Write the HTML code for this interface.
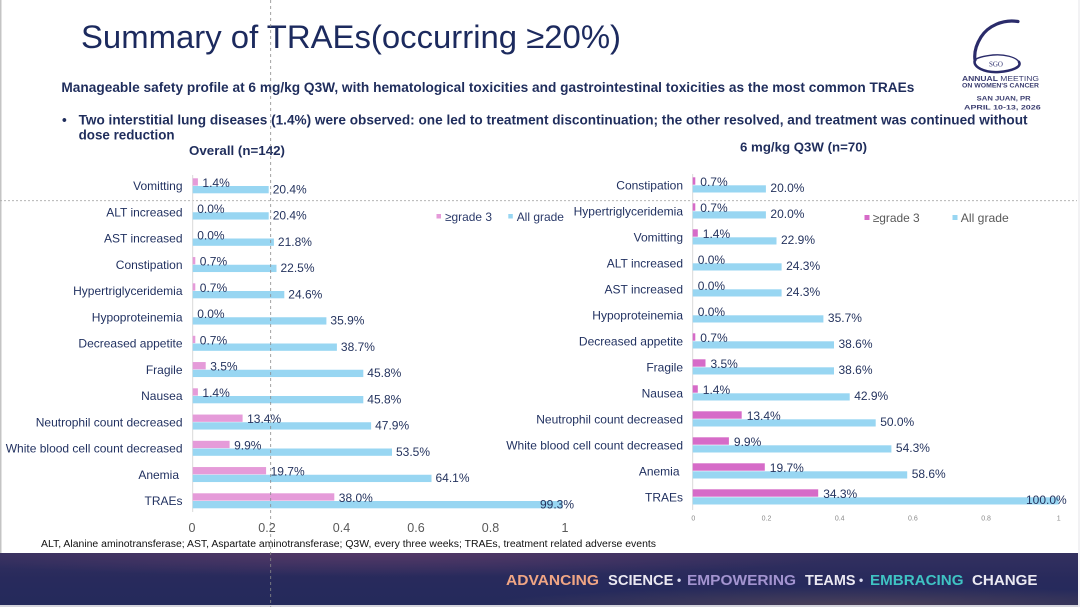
<!DOCTYPE html>
<html>
<head>
<meta charset="utf-8">
<style>
  html, body { margin:0; padding:0; background:#ffffff; }
  body { width:1080px; height:607px; overflow:hidden; }
  svg { display:block; }
  text { font-family: "Liberation Sans", Arial, sans-serif; }
</style>
</head>
<body>
<svg width="1080" height="607" viewBox="0 0 1080 607" xmlns="http://www.w3.org/2000/svg">
  <defs>
    <linearGradient id="bannerBase" x1="0" y1="0" x2="0" y2="1">
      <stop offset="0" stop-color="#33305f"/>
      <stop offset="0.5" stop-color="#282a5c"/>
      <stop offset="1" stop-color="#242a5b"/>
    </linearGradient>
    <radialGradient id="glow1" cx="0.35" cy="0" r="0.45" fx="0.35" fy="0">
      <stop offset="0" stop-color="#5a3a68" stop-opacity="0.85"/>
      <stop offset="1" stop-color="#5a3a68" stop-opacity="0"/>
    </radialGradient>
    <radialGradient id="glow2" cx="0.8" cy="1" r="0.35" fx="0.8" fy="1">
      <stop offset="0" stop-color="#5b4a58" stop-opacity="0.7"/>
      <stop offset="1" stop-color="#5b4a58" stop-opacity="0"/>
    </radialGradient>
  </defs>

  <!-- background -->
  <rect x="0" y="0" width="1080" height="607" fill="#ffffff"/>
  <rect x="0" y="0" width="1.5" height="607" fill="#c4c4c4"/>

  <!-- Title -->
  <text x="81" y="48" font-size="32" fill="#1c2a5e" textLength="540" lengthAdjust="spacingAndGlyphs">Summary of TRAEs(occurring ≥20%)</text>

  <!-- Subtitle -->
  <text x="61.4" y="92" font-size="13.5" font-weight="bold" fill="#1f2d5c" textLength="853" lengthAdjust="spacingAndGlyphs">Manageable safety profile at 6 mg/kg Q3W, with hematological toxicities and gastrointestinal toxicities as the most common TRAEs</text>
  <text x="62" y="124.5" font-size="13.5" font-weight="bold" fill="#1f2d5c">•</text>
  <text x="78.6" y="124.5" font-size="13.5" font-weight="bold" fill="#1f2d5c" textLength="949" lengthAdjust="spacingAndGlyphs">Two interstitial lung diseases (1.4%) were observed: one led to treatment discontinuation; the other resolved, and treatment was continued without</text>
  <text x="78.6" y="139.5" font-size="13.5" font-weight="bold" fill="#1f2d5c" textLength="96" lengthAdjust="spacingAndGlyphs">dose reduction</text>

  <!-- Chart titles -->
  <text x="189" y="155" font-size="13" font-weight="bold" fill="#1f2d5c" textLength="96" lengthAdjust="spacingAndGlyphs">Overall (n=142)</text>
  <text x="740" y="151.5" font-size="13" font-weight="bold" fill="#1f2d5c" textLength="127" lengthAdjust="spacingAndGlyphs">6 mg/kg Q3W (n=70)</text>

  <!-- Logo -->
  <g fill="none" stroke="#2a2b6a" stroke-linecap="round">
    <path d="M1018,21.5 C1003,19 988,26 981,37 C976,45 974,53 975,60" stroke-width="3.2"/>
    <path d="M975,60 C972,67 985,73 999,72 C1012,71 1022,67 1019,62" stroke-width="2.6"/>
    <path d="M1019,62 C1016,57 1004,54 993,55 C984,56 977,58 975,60" stroke-width="1.4"/>
  </g>
  <text x="996" y="66.5" font-size="7" text-anchor="middle" fill="#2d2f6e" style="font-family:'Liberation Serif',serif">SGO</text>
  <text x="962" y="81" font-size="7.5" fill="#3a3d70" textLength="77" lengthAdjust="spacingAndGlyphs"><tspan font-weight="bold">ANNUAL</tspan> MEETING</text>
  <text x="962" y="87.5" font-size="6" font-weight="bold" fill="#3a3d70" textLength="77" lengthAdjust="spacingAndGlyphs">ON WOMEN'S CANCER</text>
  <text x="976.7" y="100.5" font-size="6.2" font-weight="bold" fill="#3a3d70" textLength="54" lengthAdjust="spacingAndGlyphs">SAN JUAN, PR</text>
  <text x="964" y="109.5" font-size="6.2" font-weight="bold" fill="#3a3d70" textLength="76.7" lengthAdjust="spacingAndGlyphs">APRIL 10-13, 2026</text>

  <!-- dashed guide lines -->
  <line x1="0" y1="200.7" x2="1077" y2="200.7" stroke="#aaaaaa" stroke-width="0.9" stroke-dasharray="2 2"/>

  <!-- ================= LEFT CHART ================= -->
  <line x1="192.7" y1="175" x2="192.7" y2="512" stroke="#d9d9d9" stroke-width="1"/>
  <g fill="#e59bd9">
    <rect x="192.7" y="178.3" width="5.2" height="7.3"/>
    <rect x="192.7" y="257.05" width="2.6" height="7.3"/>
    <rect x="192.7" y="283.3" width="2.6" height="7.3"/>
    <rect x="192.7" y="335.8" width="2.6" height="7.3"/>
    <rect x="192.7" y="362.05" width="13.0" height="7.3"/>
    <rect x="192.7" y="388.3" width="5.2" height="7.3"/>
    <rect x="192.7" y="414.55" width="49.9" height="7.3"/>
    <rect x="192.7" y="440.8" width="36.9" height="7.3"/>
    <rect x="192.7" y="467.05" width="73.4" height="7.3"/>
    <rect x="192.7" y="493.3" width="141.6" height="7.3"/>
  </g>
  <g fill="#98d6f2">
    <rect x="192.7" y="186.0" width="76.0" height="7.3"/>
    <rect x="192.7" y="212.25" width="76.0" height="7.3"/>
    <rect x="192.7" y="238.5" width="81.2" height="7.3"/>
    <rect x="192.7" y="264.75" width="83.8" height="7.3"/>
    <rect x="192.7" y="291.0" width="91.6" height="7.3"/>
    <rect x="192.7" y="317.25" width="133.7" height="7.3"/>
    <rect x="192.7" y="343.5" width="144.2" height="7.3"/>
    <rect x="192.7" y="369.75" width="170.6" height="7.3"/>
    <rect x="192.7" y="396.0" width="170.6" height="7.3"/>
    <rect x="192.7" y="422.25" width="178.4" height="7.3"/>
    <rect x="192.7" y="448.5" width="199.3" height="7.3"/>
    <rect x="192.7" y="474.75" width="238.8" height="7.3"/>
    <rect x="192.7" y="501.0" width="369.9" height="7.3"/>
  </g>
  <!-- left category labels -->
  <g font-size="12" fill="#1f2f5f" text-anchor="end">
    <text x="182.5" y="190.1">Vomitting</text>
    <text x="182.5" y="216.35">ALT increased</text>
    <text x="182.5" y="242.6">AST increased</text>
    <text x="182.5" y="268.85">Constipation</text>
    <text x="182.5" y="295.1">Hypertriglyceridemia</text>
    <text x="182.5" y="321.35">Hypoproteinemia</text>
    <text x="182.5" y="347.6">Decreased appetite</text>
    <text x="182.5" y="373.85">Fragile</text>
    <text x="182.5" y="400.1">Nausea</text>
    <text x="182.5" y="426.35">Neutrophil count decreased</text>
    <text x="182.5" y="452.6">White blood cell count decreased</text>
    <text x="179" y="478.85">Anemia</text>
    <text x="182.5" y="505.1">TRAEs</text>
  </g>
  <!-- left value labels -->
  <g font-size="12" fill="#25345f">
    <text x="202.4" y="186.8">1.4%</text>
    <text x="272.7" y="193.3">20.4%</text>
    <text x="197.2" y="213.05">0.0%</text>
    <text x="272.7" y="219.55">20.4%</text>
    <text x="197.2" y="239.3">0.0%</text>
    <text x="277.9" y="245.8">21.8%</text>
    <text x="199.8" y="265.55">0.7%</text>
    <text x="280.5" y="272.05">22.5%</text>
    <text x="199.8" y="291.8">0.7%</text>
    <text x="288.3" y="298.3">24.6%</text>
    <text x="197.2" y="318.05">0.0%</text>
    <text x="330.4" y="324.55">35.9%</text>
    <text x="199.8" y="344.3">0.7%</text>
    <text x="340.9" y="350.8">38.7%</text>
    <text x="210.2" y="370.55">3.5%</text>
    <text x="367.3" y="377.05">45.8%</text>
    <text x="202.4" y="396.8">1.4%</text>
    <text x="367.3" y="403.3">45.8%</text>
    <text x="247.1" y="423.05">13.4%</text>
    <text x="375.1" y="429.55">47.9%</text>
    <text x="234.1" y="449.3">9.9%</text>
    <text x="396.0" y="455.8">53.5%</text>
    <text x="270.6" y="475.55">19.7%</text>
    <text x="435.5" y="482.05">64.1%</text>
    <text x="338.8" y="501.8">38.0%</text>
    <text x="540" y="508.3">99.3%</text>
  </g>
  <!-- left ticks -->
  <g font-size="12.5" fill="#595959" text-anchor="middle">
    <text x="192" y="532">0</text>
    <text x="267" y="532">0.2</text>
    <text x="341.5" y="532">0.4</text>
    <text x="416" y="532">0.6</text>
    <text x="490.5" y="532">0.8</text>
    <text x="565" y="532">1</text>
  </g>
  <!-- left legend -->
  <rect x="436.5" y="214" width="4.5" height="4.5" fill="#e59bd9"/>
  <text x="445" y="221" font-size="12" fill="#2b3a6a" textLength="47" lengthAdjust="spacingAndGlyphs">≥grade 3</text>
  <rect x="508.3" y="214" width="4.5" height="4.5" fill="#98d6f2"/>
  <text x="516.7" y="221" font-size="12" fill="#2b3a6a" textLength="47.3" lengthAdjust="spacingAndGlyphs">All grade</text>

  <!-- ================= RIGHT CHART ================= -->
  <line x1="692.7" y1="174" x2="692.7" y2="510" stroke="#d9d9d9" stroke-width="1"/>
  <g fill="#d66bc8">
    <rect x="692.7" y="177.3" width="2.6" height="7.4"/>
    <rect x="692.7" y="203.3" width="2.6" height="7.4"/>
    <rect x="692.7" y="229.3" width="5.1" height="7.4"/>
    <rect x="692.7" y="333.3" width="2.6" height="7.4"/>
    <rect x="692.7" y="359.3" width="12.8" height="7.4"/>
    <rect x="692.7" y="385.3" width="5.1" height="7.4"/>
    <rect x="692.7" y="411.3" width="49.0" height="7.4"/>
    <rect x="692.7" y="437.3" width="36.2" height="7.4"/>
    <rect x="692.7" y="463.3" width="72.1" height="7.4"/>
    <rect x="692.7" y="489.3" width="125.5" height="7.4"/>
  </g>
  <g fill="#98d6f2">
    <rect x="692.7" y="185.3" width="73.2" height="7.2"/>
    <rect x="692.7" y="211.3" width="73.2" height="7.2"/>
    <rect x="692.7" y="237.3" width="83.8" height="7.2"/>
    <rect x="692.7" y="263.3" width="88.9" height="7.2"/>
    <rect x="692.7" y="289.3" width="88.9" height="7.2"/>
    <rect x="692.7" y="315.3" width="130.7" height="7.2"/>
    <rect x="692.7" y="341.3" width="141.3" height="7.2"/>
    <rect x="692.7" y="367.3" width="141.3" height="7.2"/>
    <rect x="692.7" y="393.3" width="157.0" height="7.2"/>
    <rect x="692.7" y="419.3" width="183.0" height="7.2"/>
    <rect x="692.7" y="445.3" width="198.7" height="7.2"/>
    <rect x="692.7" y="471.3" width="214.5" height="7.2"/>
    <rect x="692.7" y="497.3" width="366.0" height="7.2"/>
  </g>
  <!-- right category labels -->
  <g font-size="12" fill="#1f2f5f" text-anchor="end">
    <text x="683" y="189.5">Constipation</text>
    <text x="683" y="215.5">Hypertriglyceridemia</text>
    <text x="683" y="241.5">Vomitting</text>
    <text x="683" y="267.5">ALT increased</text>
    <text x="683" y="293.5">AST increased</text>
    <text x="683" y="319.5">Hypoproteinemia</text>
    <text x="683" y="345.5">Decreased appetite</text>
    <text x="683" y="371.5">Fragile</text>
    <text x="683" y="397.5">Nausea</text>
    <text x="683" y="423.5">Neutrophil count decreased</text>
    <text x="683" y="449.5">White blood cell count decreased</text>
    <text x="679.5" y="475.5">Anemia</text>
    <text x="683" y="501.5">TRAEs</text>
  </g>
  <!-- right value labels -->
  <g font-size="12" fill="#25345f">
    <text x="700.3" y="185.8">0.7%</text>
    <text x="770.4" y="192">20.0%</text>
    <text x="700.3" y="211.8">0.7%</text>
    <text x="770.4" y="218">20.0%</text>
    <text x="702.8" y="237.8">1.4%</text>
    <text x="781.0" y="244">22.9%</text>
    <text x="697.7" y="263.8">0.0%</text>
    <text x="786.1" y="270">24.3%</text>
    <text x="697.7" y="289.8">0.0%</text>
    <text x="786.1" y="296">24.3%</text>
    <text x="697.7" y="315.8">0.0%</text>
    <text x="827.9" y="322">35.7%</text>
    <text x="700.3" y="341.8">0.7%</text>
    <text x="838.5" y="348">38.6%</text>
    <text x="710.5" y="367.8">3.5%</text>
    <text x="838.5" y="374">38.6%</text>
    <text x="702.8" y="393.8">1.4%</text>
    <text x="854.2" y="400">42.9%</text>
    <text x="746.7" y="419.8">13.4%</text>
    <text x="880.2" y="426">50.0%</text>
    <text x="733.9" y="445.8">9.9%</text>
    <text x="895.9" y="452">54.3%</text>
    <text x="769.8" y="471.8">19.7%</text>
    <text x="911.7" y="478">58.6%</text>
    <text x="823.2" y="497.8">34.3%</text>
    <text x="1026" y="504">100.0%</text>
  </g>
  <!-- right ticks -->
  <g font-size="7" fill="#8a8a8a" text-anchor="middle">
    <text x="693.3" y="520.5">0</text>
    <text x="766.5" y="520.5">0.2</text>
    <text x="839.7" y="520.5">0.4</text>
    <text x="912.9" y="520.5">0.6</text>
    <text x="986.1" y="520.5">0.8</text>
    <text x="1058.7" y="520.5">1</text>
  </g>
  <!-- right legend -->
  <rect x="864.5" y="215" width="5" height="5" fill="#d66bc8"/>
  <text x="872.7" y="222" font-size="12" fill="#595959" textLength="47" lengthAdjust="spacingAndGlyphs">≥grade 3</text>
  <rect x="952.5" y="215" width="5" height="5" fill="#98d6f2"/>
  <text x="960.8" y="222" font-size="12" fill="#595959" textLength="48" lengthAdjust="spacingAndGlyphs">All grade</text>

  <!-- Footnote -->
  <text x="41" y="547" font-size="10" fill="#111111" textLength="615" lengthAdjust="spacingAndGlyphs">ALT, Alanine aminotransferase; AST, Aspartate aminotransferase; Q3W, every three weeks; TRAEs, treatment related adverse events</text>

  <!-- Banner -->
  <rect x="0" y="553" width="1078" height="52" fill="url(#bannerBase)"/>
  <rect x="0" y="553" width="1078" height="52" fill="url(#glow1)"/>
  <rect x="0" y="553" width="1078" height="52" fill="url(#glow2)"/>
  <rect x="0" y="605" width="1080" height="2" fill="#d4d4dc"/>
  <rect x="1078" y="0" width="2" height="607" fill="#f2f2f4"/>

  <g font-size="14.5" font-weight="bold">
    <text x="506" y="585" fill="#f0a584" textLength="93" lengthAdjust="spacingAndGlyphs">ADVANCING</text>
    <text x="608" y="585" fill="#ebe9f2" textLength="65.5" lengthAdjust="spacingAndGlyphs">SCIENCE</text>
    <text x="677" y="584" fill="#dcdcf0" font-size="12">•</text>
    <text x="687" y="585" fill="#a394d0" textLength="109" lengthAdjust="spacingAndGlyphs">EMPOWERING</text>
    <text x="805" y="585" fill="#ebe9f2" textLength="50.5" lengthAdjust="spacingAndGlyphs">TEAMS</text>
    <text x="859" y="584" fill="#dcdcf0" font-size="12">•</text>
    <text x="870" y="585" fill="#3fc3c3" textLength="93.5" lengthAdjust="spacingAndGlyphs">EMBRACING</text>
    <text x="972" y="585" fill="#ebe9f2" textLength="65.5" lengthAdjust="spacingAndGlyphs">CHANGE</text>
  </g>

  <!-- vertical dashed guide (on top) -->
  <line x1="270.7" y1="0" x2="270.7" y2="607" stroke="#8a8a8a" stroke-width="0.8" stroke-dasharray="3 3"/>
</svg>
</body>
</html>
